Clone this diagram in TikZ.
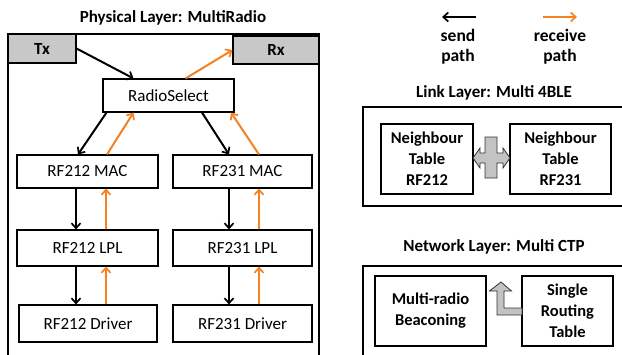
\documentclass[tikz,border=0pt]{standalone}
\usepackage{fontspec}
\setmainfont{Carlito}
\usetikzlibrary{arrows.meta,shadows}

\definecolor{rxorange}{RGB}{245,130,32}
\definecolor{boxgray}{RGB}{200,200,200}
\definecolor{plusgray}{RGB}{195,195,195}

\tikzset{
  layerbox/.style={draw=black, line width=1.2pt},
  blockbox/.style={draw=black, line width=1.1pt, fill=white, inner sep=0pt,
    drop shadow={shadow xshift=1.2pt, shadow yshift=-1.2pt, opacity=0.25},
    font=\fontsize{17}{19}\selectfont, align=center},
  endbox/.style={blockbox, fill=boxgray, font=\fontsize{17}{19}\selectfont\bfseries},
  tablebox/.style={blockbox, font=\fontsize{16.5}{21}\selectfont\bfseries},
  layertitle/.style={font=\fontsize{17}{19}\selectfont\bfseries},
  legendtext/.style={font=\fontsize{17.5}{20}\selectfont\bfseries, align=center},
  sendarrow/.style={draw=black, line width=2pt,
    -{Straight Barb[length=5pt,width=9pt,line width=1.7pt]}},
  recvarrow/.style={draw=rxorange, line width=2pt,
    -{Straight Barb[length=5pt,width=9pt,line width=1.7pt]}},
  bigarrow/.style={draw=black!80, line width=0.8pt, fill=plusgray, line join=miter},
}

\begin{document}
\begin{tikzpicture}[x=1pt,y=-1pt]
\clip (0,0) rectangle (622,354);
\fill[white] (0,0) rectangle (622,354);

% ---------- Physical layer ----------
\node[layertitle] (phytitle) at (173,18) {Physical Layer: MultiRadio};
\draw[layerbox] (8,34) rectangle (319,380);

\node[endbox, minimum width=68pt, minimum height=29pt] (tx) at (42,48.5) {Tx};
\node[endbox, minimum width=86pt, minimum height=28pt] (rx) at (276,50) {Rx};

\node[blockbox, minimum width=131pt, minimum height=33pt] (rs) at (168.5,95.5) {RadioSelect};

\node[blockbox, minimum width=141pt, minimum height=33pt] (mac212) at (87.5,171.5) {RF212 MAC};
\node[blockbox, minimum width=139pt, minimum height=33pt] (mac231) at (242.5,171.5) {RF231 MAC};
\node[blockbox, minimum width=141pt, minimum height=36pt] (lpl212) at (87.5,248) {RF212 LPL};
\node[blockbox, minimum width=139pt, minimum height=36pt] (lpl231) at (242.5,248) {RF231 LPL};
\node[blockbox, minimum width=138pt, minimum height=37pt] (drv212) at (88,323.5) {RF212 Driver};
\node[blockbox, minimum width=139pt, minimum height=37pt] (drv231) at (242.5,323.5) {RF231 Driver};

% send path (black, downwards)
\draw[sendarrow] (tx.east) -- ([xshift=-35pt]rs.north);
\draw[sendarrow] ([xshift=-62pt]rs.south) -- ([xshift=-9.5pt]mac212.north);
\draw[sendarrow] ([xshift=33.5pt]rs.south) -- ([xshift=-13.5pt]mac231.north);
\draw[sendarrow] ([xshift=-11.5pt]mac212.south) -- ([xshift=-11.5pt]lpl212.north);
\draw[sendarrow] ([xshift=-11.5pt]lpl212.south) -- ([xshift=-12pt]drv212.north);
\draw[sendarrow] ([xshift=-13.5pt]mac231.south) -- ([xshift=-13.5pt]lpl231.north);
\draw[sendarrow] ([xshift=-13.5pt]lpl231.south) -- ([xshift=-13.5pt]drv231.north);

% receive path (orange, upwards)
\draw[recvarrow] ([xshift=17pt]rs.north) -- (rx.west);
\draw[recvarrow] ([xshift=19.5pt]mac212.north) -- ([xshift=-35pt]rs.south);
\draw[recvarrow] ([xshift=16.5pt]mac231.north) -- ([xshift=62.5pt]rs.south);
\draw[recvarrow] ([xshift=18.5pt]lpl212.north) -- ([xshift=18.5pt]mac212.south);
\draw[recvarrow] ([xshift=18pt]drv212.north) -- ([xshift=18.5pt]lpl212.south);
\draw[recvarrow] ([xshift=16.5pt]lpl231.north) -- ([xshift=16.5pt]mac231.south);
\draw[recvarrow] ([xshift=16.5pt]drv231.north) -- ([xshift=16.5pt]lpl231.south);

% ---------- Legend ----------
\coordinate (sendA) at (476,17);
\coordinate (sendB) at (442,17);
\coordinate (recvA) at (543,17);
\coordinate (recvB) at (577,17);
\draw[sendarrow] (sendA) -- (sendB);
\draw[recvarrow] (recvA) -- (recvB);
\node[legendtext] (sendlbl) at (458,47) {send\\path};
\node[legendtext] (recvlbl) at (560,47) {receive\\path};

% ---------- Link layer ----------
\node[layertitle] (linktitle) at (494,93) {Link Layer: Multi 4BLE};
\draw[layerbox] (363,107) rectangle (640,206);
\node[tablebox, minimum width=92pt, minimum height=70pt] (nt212) at (427,159) {Neighbour\\Table\\RF212};
\node[tablebox, minimum width=101pt, minimum height=70pt] (nt231) at (560.5,159) {Neighbour\\Table\\RF231};

% combining cross with a double-headed bar between the two tables
\draw[bigarrow]
  (485,137) -- (497,137) -- (497,153) -- (503,153) -- (503,148) -- (510,158)
  -- (503,168) -- (503,163) -- (497,163) -- (497,178) -- (485,178)
  -- (485,163) -- (480,163) -- (480,168) -- (473,158) -- (480,148)
  -- (480,153) -- (485,153) -- cycle;

% ---------- Network layer ----------
\node[layertitle] (nettitle) at (494,247) {Network Layer: Multi CTP};
\draw[layerbox] (363,266) rectangle (640,400);
\node[tablebox, minimum width=111pt, minimum height=70pt] (beacon) at (430.5,311) {Multi-radio\\Beaconing};
\node[tablebox, minimum width=91pt, minimum height=70pt] (route) at (567.5,311) {Single\\Routing\\Table};

% bent arrow from the routing table up towards the beaconing block
\draw[bigarrow]
  (501,282) -- (511.5,291) -- (504,291) -- (504,308) -- (522,308)
  -- (522,315) -- (497,315) -- (497,291) -- (489.5,291) -- cycle;

\end{tikzpicture}
\end{document}
